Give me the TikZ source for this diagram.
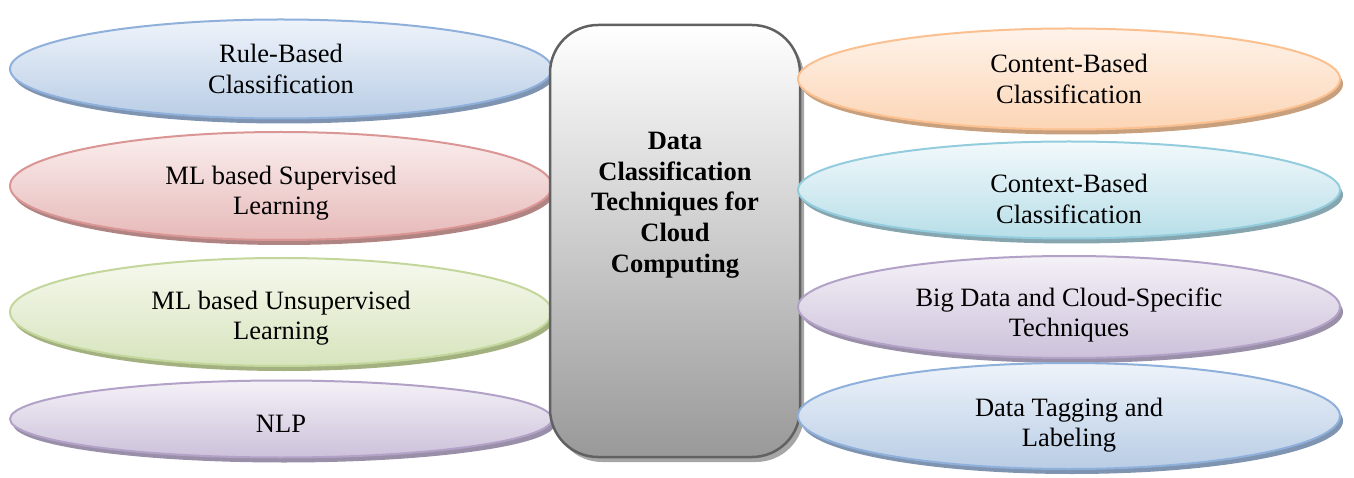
\documentclass[tikz,border=0pt]{standalone}
\usepackage{fontspec}
\setmainfont{LiberationSerif}[Extension=.ttf, UprightFont=*-Regular, BoldFont=*-Bold]
\newfontfamily\tmsfont{LiberationSerif}[Extension=.ttf, UprightFont=*-Regular, BoldFont=*-Bold]
\usetikzlibrary{shapes.geometric,shadows}
\definecolor{bluE}{HTML}{8FB0DA}\definecolor{bluT}{HTML}{EEF3FA}\definecolor{bluB}{HTML}{B9CDE5}\definecolor{bluS}{HTML}{7F94B0}
\definecolor{redE}{HTML}{D99694}\definecolor{redT}{HTML}{FBEFEF}\definecolor{redB}{HTML}{E6B9B8}\definecolor{redS}{HTML}{B08483}
\definecolor{grnE}{HTML}{C3D69B}\definecolor{grnT}{HTML}{F6F9EE}\definecolor{grnB}{HTML}{D7E4BD}\definecolor{grnS}{HTML}{A3B07F}
\definecolor{purE}{HTML}{B3A2C7}\definecolor{purT}{HTML}{F4F1F7}\definecolor{purB}{HTML}{CCC1DA}\definecolor{purS}{HTML}{9A8FA8}
\definecolor{orgE}{HTML}{FAC090}\definecolor{orgT}{HTML}{FEF3EA}\definecolor{orgB}{HTML}{FCD5B5}\definecolor{orgS}{HTML}{C9A07E}
\definecolor{aquE}{HTML}{93CDDD}\definecolor{aquT}{HTML}{F2F9FB}\definecolor{aquB}{HTML}{B7DEE8}\definecolor{aquS}{HTML}{86A5AE}
\tikzset{
  oval/.style={ellipse, minimum width=542pt, minimum height=#1, line width=2pt, inner sep=0pt},
  ovaltext/.style={align=center, inner sep=0pt, font=\tmsfont\fontsize{26.5}{30.5}\selectfont},
  tint/.style n args={4}{draw=#1, top color=#2, bottom color=#3,
    drop shadow={shadow xshift=3pt, shadow yshift=-5pt, fill=#4, opacity=1}},
  blueoval/.style={tint={bluE}{bluT}{bluB}{bluS}},
  redoval/.style={tint={redE}{redT}{redB}{redS}},
  greenoval/.style={tint={grnE}{grnT}{grnB}{grnS}},
  purpleoval/.style={tint={purE}{purT}{purB}{purS}},
  orangeoval/.style={tint={orgE}{orgT}{orgB}{orgS}},
  aquaoval/.style={tint={aquE}{aquT}{aquB}{aquS}},
  corebox/.style={rectangle, rounded corners=48pt, minimum width=250pt, minimum height=432pt,
    draw={black!62}, line width=2.5pt, top color=white, bottom color={black!40},
    drop shadow={shadow xshift=4pt, shadow yshift=-5pt, fill={black!35}, opacity=1}},
  coretext/.style={align=center, font=\tmsfont\bfseries\fontsize{26.5}{30.7}\selectfont}
}
\begin{document}
\begin{tikzpicture}[x=1pt,y=-1pt]
\useasboundingbox (0,0) rectangle (1354,478);
% left column
\node[oval=99pt, blueoval, label={[ovaltext, name=rulet]center:Rule-Based\\Classification}] (rule) at (281,69) {};
\node[oval=108pt, redoval, label={[ovaltext, name=supt, yshift=-7pt]center:ML based Supervised\\Learning}] (sup) at (281,186) {};
\node[oval=108pt, greenoval, label={[ovaltext, name=unsupt, yshift=-6pt]center:ML based Unsupervised\\Learning}] (unsup) at (281,312) {};
\node[oval=77pt, purpleoval, label={[ovaltext, name=nlpt, yshift=-5pt]center:NLP}] (nlp) at (281,419) {};
% centre
\node[corebox] (core) at (675,241) {};
\node[coretext] (title) at (675,205) {Data\\Classification\\Techniques for\\Cloud\\Computing};
% right column
\node[oval=101pt, orangeoval, label={[ovaltext, name=contentt]center:Content-Based\\Classification}] (content) at (1069,79) {};
\node[oval=97pt, aquaoval, label={[ovaltext, name=contextt, yshift=-9pt]center:Context-Based\\Classification}] (context) at (1069,190) {};
\node[oval=102pt, purpleoval, label={[ovaltext, name=bigdatat, yshift=-8pt]center:Big Data and Cloud-Specific\\Techniques}] (bigdata) at (1069,307) {};
\node[oval=106pt, blueoval, label={[ovaltext, name=taggingt, yshift=-9pt]center:Data Tagging and\\Labeling}] (tagging) at (1069,416) {};
\end{tikzpicture}
\end{document}
